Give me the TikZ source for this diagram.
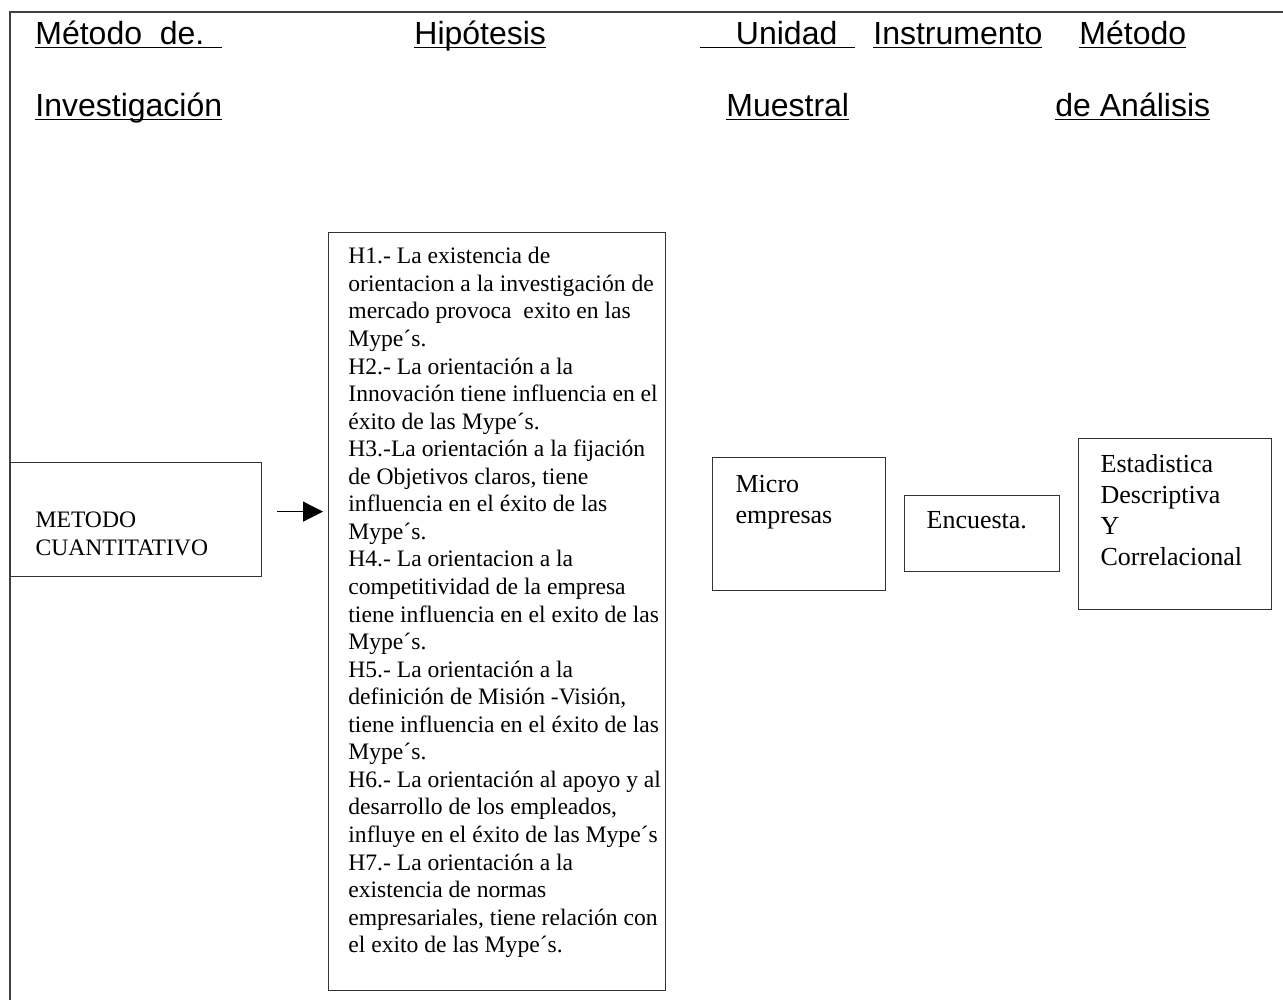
\documentclass[tikz,border=0pt]{standalone}
\usepackage{fontspec}
\setmainfont{Liberation Serif}
\newfontfamily\titulo{Liberation Sans}
\usepackage{tikz}
\usetikzlibrary{arrows.meta}
\newcommand{\subrayado}[1]{\setbox0=\hbox{#1}\rlap{\rule[-2.2pt]{\wd0}{0.8pt}}\box0}
\tikzset{
	esquema/.style={x=0.5pt,y=-0.5pt},
	marco/.style={draw=black!75,line width=0.6pt},
	caja/.style={draw=black!80,line width=0.6pt,anchor=north west,inner ysep=0pt,align=left},
	encabezado/.style={anchor=base west,inner sep=0pt,font=\titulo\fontsize{16}{19}\selectfont},
	textohip/.style={font=\fontsize{11.8}{13.78}\selectfont},
	textoder/.style={font=\fontsize{13}{15.4}\selectfont},
	flecha/.style={-{Triangle[length=10pt,width=10pt]},line width=0.6pt,shorten >=2.5pt}
}
\begin{document}
\begin{tikzpicture}[esquema]
	\useasboundingbox (0,0) rectangle (1283,1003);
	
	% marco
	\coordinate (esq) at (10,12);
	\draw[marco] (1283,12) -- (esq) -- (10,1000);
	
	% encabezados
	\node[encabezado] (tmetodo) at (35,44) {\subrayado{Método\ \ de.\ \ }};
	\node[encabezado] (tinvest) at (35,116) {\subrayado{Investigación}};
	\node[encabezado] (thip) at (414,44) {\subrayado{Hipótesis}};
	\node[encabezado] (tunidad) at (700,44) {\subrayado{\ \ \ \ Unidad\ \ }};
	\node[encabezado] (tmuestral) at (726,116) {\subrayado{Muestral}};
	\node[encabezado] (tinstr) at (873,44) {\subrayado{Instrumento}};
	\node[encabezado] (tanalisis) at (1079,44) {\subrayado{Método}};
	\node[encabezado] (tanalisis2) at (1055,116) {\subrayado{de Análisis}};
	
	% cajas
	\node[caja,textohip,inner xsep=12.5pt,text width=100.5pt,text height=32.5pt,text depth=24.5pt]
		(metodo) at (10,462) {METODO\\CUANTITATIVO};
	\node[caja,inner xsep=0pt,minimum width=168.5pt,minimum height=379pt] (hipotesis) at (328,232) {};
	\node[textohip,anchor=north west,inner sep=0pt,align=left] (hipotexto) at (348,247) {H1.- La existencia de\\
		orientacion a la investigación de\\
		mercado provoca\ \ exito en las\\
		Mype´s.\\
		H2.- La orientación a la\\
		Innovación tiene influencia en el\\
		éxito de las Mype´s.\\
		H3.-La orientación a la fijación\\
		de Objetivos claros, tiene\\
		influencia en el éxito de las\\
		Mype´s.\\
		H4.- La orientacion a la\\
		competitividad de la empresa\\
		tiene influencia en el exito de las\\
		Mype´s.\\
		H5.- La orientación a la\\
		definición de Misión -Visión,\\
		tiene influencia en el éxito de las\\
		Mype´s.\\
		H6.- La orientación al apoyo y al\\
		desarrollo de los empleados,\\
		influye en el éxito de las Mype´s\\
		H7.- La orientación a la\\
		existencia de normas\\
		empresariales, tiene relación con\\
		el exito de las Mype´s.};
	\node[caja,textoder,inner xsep=11.5pt,text width=63.5pt,text height=17.5pt,text depth=49pt]
		(micro) at (712,457) {Micro\\empresas};
	\node[caja,textoder,inner xsep=11pt,text width=55.5pt,text height=16.5pt,text depth=21.5pt]
		(encuesta) at (904,495) {Encuesta.};
	\node[caja,textoder,inner xsep=11pt,text width=74.5pt,text height=17pt,text depth=68.5pt]
		(analisis) at (1078,438) {Estadistica\\Descriptiva\\Y\\Correlacional};
	
	% flecha
	\coordinate (fini) at ([shift={(15,-8)}]metodo.east);
	\draw[flecha] (fini) -- (fini -| hipotesis.west);
\end{tikzpicture}
\end{document}
